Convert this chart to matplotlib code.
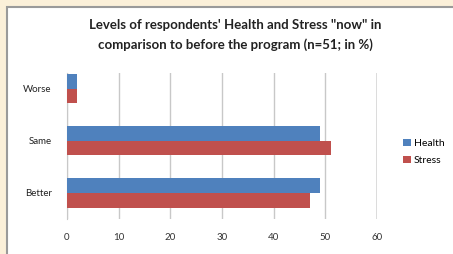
import numpy as np
import matplotlib.pyplot as plt
from matplotlib.patches import Rectangle

# data
categories = ['Better', 'Same', 'Worse']
health = [49, 49, 2]
stress = [47, 51, 2]
xticks = [0, 10, 20, 30, 40, 50, 60]

W, H = 453, 254
fig = plt.figure(figsize=(W / 100, H / 100), dpi=100)
fig.patch.set_facecolor('#fbf0d9')
plt.rcParams['font.family'] = ['Lato', 'DejaVu Sans']

# white chart area with grey frame on left/top
fig.patches.append(Rectangle((7 / W, -0.1), 1.2, 1.1 - 7 / H, transform=fig.transFigure,
                             facecolor='white', edgecolor='#9a9a9a', linewidth=1.5, zorder=-1))

ax = fig.add_axes([67 / W, 1 - 219 / H, (377 - 67) / W, (219 - 73) / H])
ax.set_facecolor('white')

y = np.arange(len(categories))
h = 0.28
ax.barh(y + h / 2, health, height=h, color='#4f81bd', label='Health', zorder=3)
ax.barh(y - h / 2, stress, height=h, color='#c0504d', label='Stress', zorder=3)

ax.set_xlim(0, 60)
ax.set_ylim(-0.5, 2.3)
ax.set_xticks(xticks)
ax.set_xticklabels([str(t) for t in xticks], fontsize=7, color='#333333')
ax.set_yticks(y)
ax.set_yticklabels(categories, fontsize=7, color='#222222')
ax.tick_params(axis='x', length=0, pad=10)
ax.tick_params(axis='y', length=0, pad=11)
ax.grid(axis='x', color='#c8c8c8', linewidth=1, zorder=0)
for s in ['top', 'right', 'bottom']:
    ax.spines[s].set_visible(False)
ax.spines['left'].set_color('#c8c8c8')
ax.axvline(60, color='#707070', linewidth=1, zorder=1)

fig.text(235 / W, 1 - 25 / H, "Levels of respondents' Health and Stress \"now\" in",
         ha='center', va='center', fontsize=9.5, fontweight='bold', color='#222222')
fig.text(235 / W, 1 - 45 / H, "comparison to before the program (n=51; in %)",
         ha='center', va='center', fontsize=9.5, fontweight='bold', color='#222222')

fig.legend(loc='center left', bbox_to_anchor=(394 / W, 1 - 152 / H), frameon=False,
           fontsize=7.5, handlelength=0.7, handleheight=0.7, handletextpad=0.3,
           labelspacing=0.8)

fig.savefig('out.png', dpi=100, facecolor=fig.get_facecolor())
